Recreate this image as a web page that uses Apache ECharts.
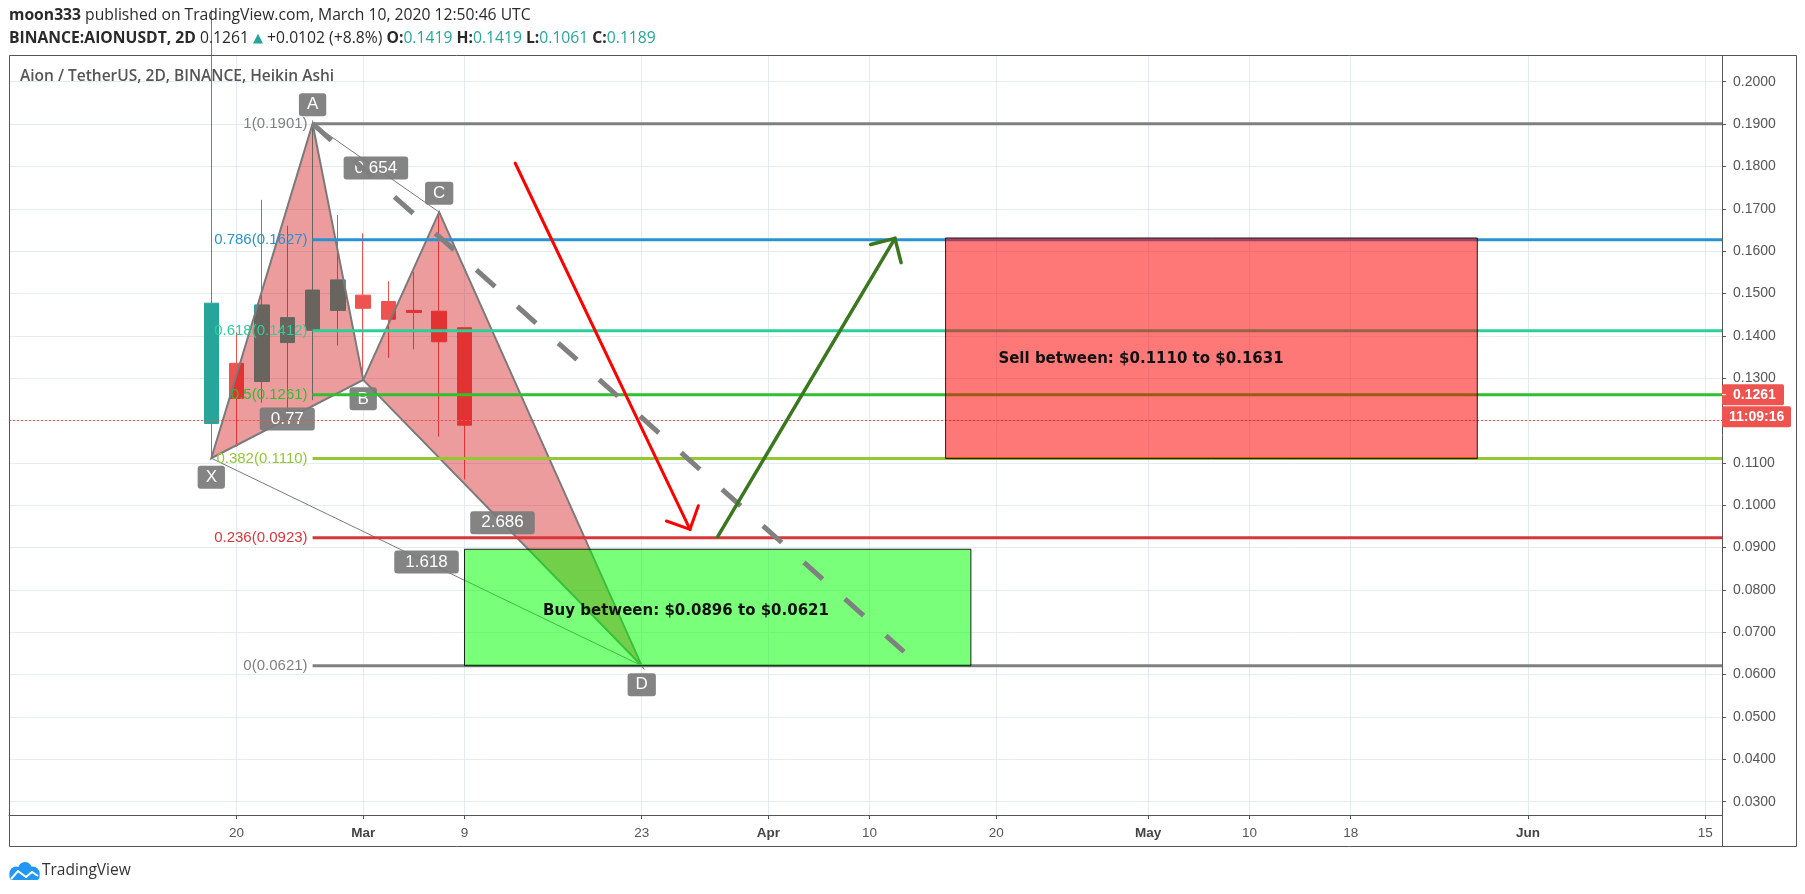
<!DOCTYPE html>
<html><head><meta charset="utf-8">
<script src="https://cdn.jsdelivr.net/npm/echarts@6/dist/echarts.min.js"></script>
<style>html,body{margin:0;padding:0;background:#fff;}#main{width:1805px;height:894px;}</style>
</head><body><div id="main"></div>
<script>
// ---------------- data ----------------
const candleDates = ['2020-02-18','2020-02-20','2020-02-22','2020-02-24','2020-02-26','2020-02-28','2020-03-01','2020-03-03','2020-03-05','2020-03-07','2020-03-09'];
const candleOpen  = [0.1193,0.1335,0.1292,0.1384,0.1413,0.1460,0.1496,0.1481,0.1460,0.1458,0.1419];
const candleClose = [0.1477,0.1252,0.1473,0.1443,0.1508,0.1532,0.1465,0.1439,0.1455,0.1386,0.1189];
const candleLow   = [0.1111,0.1138,0.1242,0.1217,0.1248,0.1377,0.1296,0.1348,0.1368,0.1162,0.1061];
const candleHigh  = [0.2170,0.1408,0.1721,0.1660,0.1901,0.1685,0.1642,0.1529,0.1551,0.1692,0.1419];

const patternNames  = ['X','A','B','C','D'];
const patternDates  = ['2020-02-18','2020-02-26','2020-03-01','2020-03-07','2020-03-23'];
const patternPrices = [0.1111,0.1901,0.1296,0.1692,0.0621];
const patternLabelSide = [1,-1,1,-1,1];           // 1 = below, -1 = above
const ratioPairs  = [[0,2],[1,3],[2,4],[0,4]];
const ratioTexts  = ['0.77','0.654','2.686','1.618'];

const fibStartDate = '2020-02-26';
const fibRatios = [1,0.786,0.618,0.5,0.382,0.236,0];
const fibPrices = [0.1901,0.1627,0.1412,0.1261,0.1110,0.0923,0.0621];

const zoneStart  = ['2020-03-09','2020-04-16'];
const zoneEnd    = ['2020-04-18','2020-05-28'];
const zoneTop    = [0.0896,0.1631];
const zoneBottom = [0.0621,0.1110];
const zoneTexts  = ['Buy between: $0.0896 to $0.0621','Sell between: $0.1110 to $0.1631'];
const zoneTextDates  = ['2020-03-26 12:00','2020-05-01 10:30'];
const zoneTextPrices = [0.0751,0.1345];

const arrowStartDates  = ['2020-03-13','2020-03-29'];
const arrowStartPrices = [0.1808,0.0926];
const arrowEndDates    = ['2020-03-26 19:30','2020-04-12'];
const arrowEndPrices   = [0.0943,0.1630];

const trendStartDate = '2020-02-26', trendStartPrice = 0.1901;
const trendEndDate = '2020-04-12 17:15', trendEndPrice = 0.0654;

const xTickDates  = ['2020-02-20','2020-03-01','2020-03-09','2020-03-23','2020-04-02','2020-04-10','2020-04-20','2020-05-02','2020-05-10','2020-05-18','2020-06-01','2020-06-15'];
const xTickLabels = ['20','Mar','9','23','Apr','10','20','May','10','18','Jun','15'];
const yTickValues = [0.03,0.04,0.05,0.06,0.07,0.08,0.09,0.10,0.11,0.12,0.13,0.14,0.15,0.16,0.17,0.18,0.19,0.20];

const viewStart = '2020-02-02 00:29', viewEnd = '2020-06-16 07:55';
const yMin = 0.02685, yMax = 0.20607;

const headerPrice = '0.1261', headerChange = '+0.0102 (+8.8%)';
const lastQuote = 0.1261, countdown = '11:09:16';

// ---------------- styles ----------------
const fibColors = ['#808080','#2a92d2','#2ccf9a','#2fbf2f','#94c832','#d9363a','#808080'];
const UP = '#26a69a', DOWN = '#ef5350';
const patFill = 'rgba(205,0,0,0.39)', patEdge = '#7a7a7a';
const zoneFills = ['rgba(0,255,0,0.52)','rgba(255,0,0,0.53)'];
const arrowColors = ['#ff0000','#3a771e'];

function ts(s){
  const [d,t] = s.split(' ');
  const [Y,M,D] = d.split('-').map(Number);
  const [h,m] = (t||'0:0').split(':').map(Number);
  return Date.UTC(Y,M-1,D,h,m);
}
const labelMap = {};
xTickDates.forEach((d,i)=>{ labelMap[ts(d)] = xTickLabels[i]; });
const last = candleClose.length-1;

const chart = echarts.init(document.getElementById('main'), null, {renderer:'canvas'});

function arrowEls(p0,p1,color,w){
  const ang = Math.atan2(p1[1]-p0[1], p1[0]-p0[0]);
  const L = 25, a = Math.PI/4;
  const w1 = [p1[0]-L*Math.cos(ang-a), p1[1]-L*Math.sin(ang-a)];
  const w2 = [p1[0]-L*Math.cos(ang+a), p1[1]-L*Math.sin(ang+a)];
  return [
    {type:'line', shape:{x1:p0[0],y1:p0[1],x2:p1[0],y2:p1[1]}, style:{stroke:color,lineWidth:w,lineCap:'round'}},
    {type:'polyline', shape:{points:[w1,p1,w2]}, style:{stroke:color,lineWidth:w,fill:null,lineCap:'round',lineJoin:'miter'}}
  ];
}

const option = {
  animation:false,
  backgroundColor:'#ffffff',
  textStyle:{fontFamily:'Liberation Sans'},
  grid:{left:9, right:83, top:56, bottom:79, containLabel:false},
  xAxis:{
    type:'value', min:ts(viewStart), max:ts(viewEnd),
    axisLine:{show:true, onZero:false, lineStyle:{color:'#555', width:1}},
    axisTick:{show:true, length:4, lineStyle:{color:'#555'}, customValues:xTickDates.map(ts)},
    axisLabel:{
      customValues:xTickDates.map(ts), margin:11, color:'#555', fontSize:13.5, fontFamily:'Liberation Sans',
      formatter:(v)=>{ const l = labelMap[v]||''; return isNaN(+l) ? '{b|'+l+'}' : l; },
      rich:{b:{fontWeight:'bold', color:'#444', fontSize:13.5, fontFamily:'Liberation Sans'}}
    },
    splitLine:{show:true, lineStyle:{color:'#e3ecf3', width:1}}
  },
  yAxis:{
    type:'value', position:'right', min:yMin, max:yMax,
    axisLine:{show:true, onZero:false, lineStyle:{color:'#555', width:1}},
    axisTick:{show:true, length:4, inside:false, lineStyle:{color:'#555'}, customValues:yTickValues},
    axisLabel:{customValues:yTickValues, margin:11, color:'#555', fontSize:14, fontFamily:'Liberation Sans',
      formatter:(v)=>(+v).toFixed(4)},
    splitLine:{show:true, lineStyle:{color:'#e3ecf3', width:1}}
  },
  graphic:[
    {type:'rect', shape:{x:9.5,y:55.5,width:1787,height:791}, style:{fill:'none',stroke:'#555',lineWidth:1}, z:50, silent:true},
    {type:'line', shape:{x1:1722.5,y1:815,x2:1722.5,y2:847}, style:{stroke:'#555',lineWidth:1}, z:50, silent:true},
    {type:'text', x:9, y:16, z:50, style:{
      text:'{b|moon333} published on TradingView.com, March 10, 2020 12:50:46 UTC',
      fontFamily:'Open Sans', fontSize:15.7, fill:'#2a2a2a', verticalAlign:'middle',
      rich:{b:{fontWeight:'bold', fontFamily:'Open Sans', fontSize:15.7, fill:'#2a2a2a'}}}},
    {type:'text', x:9, y:39, z:50, style:{
      text:'{b|BINANCE:AIONUSDT, 2D} '+headerPrice+' {t|▲} '+headerChange+' {b|O:}{v|'+candleOpen[last].toFixed(4)+'} {b|H:}{v|'+candleHigh[last].toFixed(4)+'} {b|L:}{v|'+candleLow[last].toFixed(4)+'} {b|C:}{v|'+candleClose[last].toFixed(4)+'}',
      fontFamily:'Open Sans', fontSize:15.7, fill:'#2a2a2a', verticalAlign:'middle',
      rich:{b:{fontWeight:'bold', fontFamily:'Open Sans', fontSize:15.7, fill:'#2a2a2a'},
            v:{fontFamily:'Open Sans', fontSize:15.7, fill:UP},
            t:{fontFamily:'DejaVu Sans', fontSize:13, fill:UP}}}},
    {type:'text', x:20, y:77, z:50, style:{text:'Aion / TetherUS, 2D, BINANCE, Heikin Ashi',
      fontFamily:'Open Sans', fontSize:15.5, fontWeight:600, fill:'#555', verticalAlign:'middle'}},
    {type:'group', x:7, y:862, z:50, children:[
      {type:'circle', shape:{cx:9,cy:11,r:6.5}, style:{fill:'#2196f3'}},
      {type:'circle', shape:{cx:18,cy:7,r:7}, style:{fill:'#2196f3'}},
      {type:'circle', shape:{cx:26,cy:11,r:6.5}, style:{fill:'#2196f3'}},
      {type:'rect', shape:{x:2.5,y:11,width:30,height:7,r:[0,0,3,3]}, style:{fill:'#2196f3'}},
      {type:'polyline', shape:{points:[[4,17],[11,9],[19,15],[25,10],[31,14]]}, style:{stroke:'#fff',lineWidth:2,fill:null}}
    ]},
    {type:'text', x:42, y:871, z:50, style:{text:'TradingView', fontFamily:'Open Sans', fontSize:15.5, fill:'#333', verticalAlign:'middle'}}
  ],
  series:[
    {
      type:'candlestick', z:2, barWidth:15,
      encode:{x:0, y:[1,2,3,4]},
      data:candleDates.map((d,i)=>[ts(d), candleOpen[i], candleClose[i], candleLow[i], candleHigh[i]]),
      itemStyle:{color:UP, color0:DOWN, borderColor:UP, borderColor0:DOWN, borderWidth:1},
      markLine:{symbol:'none', silent:true, label:{show:false}, animation:false,
        lineStyle:{color:'#ef5350', type:[2,2], width:1},
        data:[{yAxis:candleClose[last]}]}
    },
    { // XABCD pattern
      type:'custom', z:3, clip:true, silent:true,
      data:[[ts(patternDates[0]), patternPrices[0]]],
      renderItem(params, api){
        const P = patternDates.map((d,i)=>api.coord([ts(d), patternPrices[i]]));
        return {type:'group', children:[
          {type:'polygon', shape:{points:[P[0],P[1],P[2]]}, style:{fill:patFill, stroke:patEdge, lineWidth:2}},
          {type:'polygon', shape:{points:[P[2],P[3],P[4]]}, style:{fill:patFill, stroke:patEdge, lineWidth:2}},
          {type:'line', shape:{x1:P[1][0],y1:P[1][1],x2:P[3][0],y2:P[3][1]}, style:{stroke:patEdge, lineWidth:1}},
          {type:'line', shape:{x1:P[0][0],y1:P[0][1],x2:P[4][0],y2:P[4][1]}, style:{stroke:patEdge, lineWidth:1}}
        ]};
      }
    },
    { // pattern labels
      type:'custom', z:4, clip:false, silent:true,
      data:[[ts(patternDates[0]), patternPrices[0]]],
      renderItem(params, api){
        const P = patternDates.map((d,i)=>api.coord([ts(d), patternPrices[i]]));
        const els = [];
        const box = (txt,x,y,ph)=>({type:'text', style:{text:txt, x:x, y:y, align:'center', verticalAlign:'middle',
          fill:'#fff', fontSize:17, fontFamily:'Liberation Sans', backgroundColor:'rgba(122,122,122,0.92)',
          padding:[3,ph,2,ph], borderRadius:3, lineHeight:18}});
        ratioPairs.forEach((pr,i)=>{
          const a = P[pr[0]], b = P[pr[1]];
          els.push(box(ratioTexts[i], (a[0]+b[0])/2, (a[1]+b[1])/2, 11));
        });
        P.forEach((p,i)=>{ els.push(box(patternNames[i], p[0], p[1]+patternLabelSide[i]*19, 8)); });
        return {type:'group', children:els};
      }
    },
    { // fib retracement
      type:'custom', z:5, clip:true, silent:true,
      data:fibPrices.map((p,i)=>[ts(fibStartDate), p, i]),
      encode:{x:0, y:1},
      renderItem(params, api){
        const i = api.value(2);
        const p = api.coord([api.value(0), api.value(1)]);
        const cs = params.coordSys;
        const c = fibColors[i];
        return {type:'group', children:[
          {type:'line', shape:{x1:p[0],y1:p[1],x2:cs.x+cs.width,y2:p[1]}, style:{stroke:c, lineWidth:3}},
          {type:'text', style:{text:String(fibRatios[i])+'('+fibPrices[i].toFixed(4)+')', x:p[0]-5, y:p[1],
            align:'right', verticalAlign:'middle', fill:c, fontSize:15, fontFamily:'Liberation Sans'}}
        ]};
      }
    },
    { // buy / sell zones
      type:'custom', z:6, clip:true, silent:true,
      data:zoneStart.map((d,i)=>[ts(d), zoneTop[i], i]),
      encode:{x:0, y:1},
      renderItem(params, api){
        const i = api.value(2);
        const p0 = api.coord([ts(zoneStart[i]), zoneTop[i]]);
        const p1 = api.coord([ts(zoneEnd[i]), zoneBottom[i]]);
        const pt = api.coord([ts(zoneTextDates[i]), zoneTextPrices[i]]);
        return {type:'group', children:[
          {type:'rect', shape:{x:p0[0], y:p0[1], width:p1[0]-p0[0], height:p1[1]-p0[1]},
            style:{fill:zoneFills[i], stroke:'rgba(0,0,0,0.85)', lineWidth:1}},
          {type:'text', style:{text:zoneTexts[i], x:pt[0], y:pt[1], align:'center', verticalAlign:'middle',
            fill:'#111', fontSize:15, fontWeight:'bold', fontFamily:'DejaVu Sans'}}
        ]};
      }
    },
    { // arrows + dashed trend line
      type:'custom', z:7, clip:true, silent:true,
      data:[[ts(trendStartDate), trendStartPrice]],
      renderItem(params, api){
        const els = [];
        const a = api.coord([ts(trendStartDate), trendStartPrice]);
        const b = api.coord([ts(trendEndDate), trendEndPrice]);
        els.push({type:'line', shape:{x1:a[0],y1:a[1],x2:b[0],y2:b[1]},
          style:{stroke:'#808080', lineWidth:5, lineDash:[25,29.9], lineDashOffset:0, lineCap:'butt'}});
        arrowStartDates.forEach((d,i)=>{
          const p0 = api.coord([ts(d), arrowStartPrices[i]]);
          const p1 = api.coord([ts(arrowEndDates[i]), arrowEndPrices[i]]);
          arrowEls(p0,p1,arrowColors[i], i===0?3:3.5).forEach(e=>els.push(e));
        });
        return {type:'group', children:els};
      }
    },
    { // price axis labels
      type:'custom', z:9, clip:false, silent:true,
      data:[[ts(viewStart), lastQuote]],
      renderItem(params, api){
        const cs = params.coordSys;
        const x = cs.x + cs.width;
        const y = api.coord([api.value(0), api.value(1)])[1];
        return {type:'group', children:[
          {type:'rect', shape:{x:x, y:y-10.5, width:62, height:21, r:2}, style:{fill:DOWN}},
          {type:'line', shape:{x1:x, y1:y, x2:x+4, y2:y}, style:{stroke:'#fff', lineWidth:1}},
          {type:'text', style:{text:lastQuote.toFixed(4), x:x+11, y:y, verticalAlign:'middle', fill:'#fff',
            fontSize:14, fontWeight:'bold', fontFamily:'Liberation Sans'}},
          {type:'rect', shape:{x:x, y:y+11.5, width:69, height:21, r:2}, style:{fill:DOWN}},
          {type:'text', style:{text:countdown, x:x+7, y:y+22, verticalAlign:'middle', fill:'#fff',
            fontSize:14, fontWeight:'bold', fontFamily:'Liberation Sans'}}
        ]};
      }
    }
  ]
};
chart.setOption(option);
</script>
</body></html>
